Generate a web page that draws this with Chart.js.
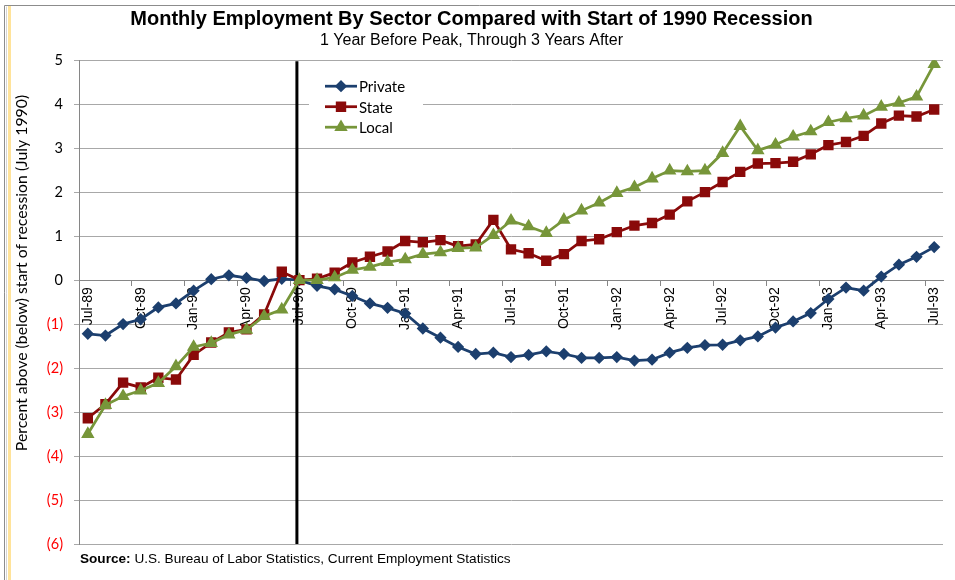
<!DOCTYPE html>
<html>
<head>
<meta charset="utf-8">
<title>Monthly Employment By Sector</title>
<script src="https://cdn.jsdelivr.net/npm/chart.js@4.4.0/dist/chart.umd.min.js"></script>
<style>
    html, body { margin: 0; padding: 0; background: #fff; }
    #wrap { width: 955px; height: 580px; position: relative; }
</style>
</head>
<body>
<div id="wrap"><canvas id="sector_chart"></canvas></div>
<script>
// months, Jul-89 through Jul-93
const months = [
    'Jul-89', 'Aug-89', 'Sep-89', 'Oct-89', 'Nov-89', 'Dec-89',
    'Jan-90', 'Feb-90', 'Mar-90', 'Apr-90', 'May-90', 'Jun-90',
    'Jul-90', 'Aug-90', 'Sep-90', 'Oct-90', 'Nov-90', 'Dec-90',
    'Jan-91', 'Feb-91', 'Mar-91', 'Apr-91', 'May-91', 'Jun-91',
    'Jul-91', 'Aug-91', 'Sep-91', 'Oct-91', 'Nov-91', 'Dec-91',
    'Jan-92', 'Feb-92', 'Mar-92', 'Apr-92', 'May-92', 'Jun-92',
    'Jul-92', 'Aug-92', 'Sep-92', 'Oct-92', 'Nov-92', 'Dec-92',
    'Jan-93', 'Feb-93', 'Mar-93', 'Apr-93', 'May-93', 'Jun-93',
    'Jul-93'
];

// percent above (below) July 1990
const privateEmp = [
    -1.22, -1.26, -1.00, -0.89, -0.62, -0.53, -0.24, 0.02, 0.11, 0.05, -0.02, 0.03,
    0.00, -0.13, -0.21, -0.36, -0.53, -0.63, -0.76, -1.10, -1.31, -1.52, -1.68, -1.65,
    -1.75, -1.70, -1.62, -1.68, -1.77, -1.77, -1.75, -1.83, -1.81, -1.65, -1.54, -1.48,
    -1.47, -1.37, -1.28, -1.08, -0.94, -0.75, -0.43, -0.17, -0.24, 0.08, 0.35, 0.53,
    0.75
];
const stateEmp = [
    -3.14, -2.82, -2.33, -2.44, -2.22, -2.26, -1.70, -1.42, -1.19, -1.12, -0.78, 0.19,
    0.00, 0.03, 0.17, 0.40, 0.53, 0.65, 0.89, 0.86, 0.91, 0.77, 0.81, 1.37,
    0.70, 0.61, 0.44, 0.59, 0.89, 0.93, 1.09, 1.24, 1.30, 1.49, 1.79, 2.00,
    2.23, 2.46, 2.65, 2.66, 2.69, 2.86, 3.07, 3.14, 3.28, 3.56, 3.74, 3.72,
    3.88
];
const localEmp = [
    -3.50, -2.84, -2.64, -2.51, -2.34, -1.96, -1.52, -1.43, -1.24, -1.13, -0.82, -0.67,
    0.00, 0.00, 0.06, 0.23, 0.30, 0.41, 0.47, 0.59, 0.63, 0.73, 0.74, 1.02,
    1.35, 1.22, 1.07, 1.37, 1.58, 1.76, 1.98, 2.11, 2.31, 2.49, 2.47, 2.49,
    2.89, 3.50, 2.95, 3.08, 3.26, 3.38, 3.59, 3.68, 3.74, 3.94, 4.03, 4.17,
    4.91
];

const recessionStart = 'Jul-90';
const yMin = -6;
const yMax = 5;

const ARIAL = "'Liberation Sans', Arial, sans-serif";
const CALIBRI = "Lato, 'Open Sans', sans-serif";

// frame, recession marker, legend, axis title, source note
const decorations = {
    id: 'decorations',
    beforeDraw(chart) {
        const ctx = chart.ctx;
        ctx.save();
        ctx.fillStyle = '#fff';
        ctx.fillRect(0, 0, chart.width, chart.height);
        ctx.fillStyle = '#FFE39A';
        ctx.fillRect(8, 6, 3, chart.height);
        ctx.strokeStyle = '#8c8c8c';
        ctx.lineWidth = 1;
        ctx.beginPath();
        ctx.moveTo(4.5, chart.height);
        ctx.lineTo(4.5, 5.5);
        ctx.lineTo(chart.width, 5.5);
        ctx.stroke();
        ctx.strokeStyle = '#d4d4d4';
        ctx.beginPath();
        ctx.moveTo(6.5, chart.height);
        ctx.lineTo(6.5, 6.5);
        ctx.stroke();
        ctx.restore();
    },
    beforeDatasetsDraw(chart) {
        const ctx = chart.ctx;
        const ca = chart.chartArea;
        const x = chart.scales.x.getPixelForValue(months.indexOf(recessionStart)) - 2.5;
        ctx.save();
        ctx.strokeStyle = '#000';
        ctx.lineWidth = 3;
        ctx.beginPath();
        ctx.moveTo(x, ca.top + 1);
        ctx.lineTo(x, ca.bottom);
        ctx.stroke();
        ctx.restore();
    },
    afterDraw(chart) {
        const ctx = chart.ctx;
        const ca = chart.chartArea;
        ctx.save();

        // legend box
        const bx = ca.left + 230, by = ca.top + 10;
        ctx.fillStyle = '#fff';
        ctx.fillRect(bx, by, 114, 68);
        ctx.font = '15px ' + CALIBRI;
        ctx.textBaseline = 'middle';
        chart.data.datasets.forEach((ds, i) => {
            const ly = ca.top + 26 + i * 20.5;
            const lx = ca.left + 246;
            ctx.strokeStyle = ds.borderColor;
            ctx.lineWidth = ds.borderWidth;
            ctx.beginPath();
            ctx.moveTo(lx, ly);
            ctx.lineTo(lx + 32, ly);
            ctx.stroke();
            ctx.fillStyle = ds.backgroundColor;
            Chart.helpers.drawPoint(ctx, {
                pointStyle: ds.pointStyle, radius: ds.pointRadius, rotation: 0, borderWidth: 1
            }, lx + 16, ly);
            ctx.fillStyle = '#000';
            ctx.textAlign = 'left';
            ctx.fillText(ds.label, lx + 34, ly + 1);
        });

        // y axis title
        ctx.translate(22, 273);
        ctx.rotate(-Math.PI / 2);
        ctx.fillStyle = '#000';
        ctx.font = '15.8px ' + CALIBRI;
        ctx.textAlign = 'center';
        ctx.fillText('Percent above (below) start of recession (July 1990)', 0, 0);
        ctx.setTransform(1, 0, 0, 1, 0, 0);

        // source note
        ctx.textAlign = 'left';
        ctx.textBaseline = 'middle';
        ctx.font = 'bold 13.6px ' + ARIAL;
        const lead = 'Source:';
        ctx.fillText(lead, 80, 559);
        const w = ctx.measureText(lead + ' ').width;
        ctx.font = '13.6px ' + ARIAL;
        ctx.fillText('U.S. Bureau of Labor Statistics, Current Employment Statistics', 80 + w, 559);
        ctx.restore();
    }
};

(function sector_chart()
{
    const sample = document.getElementById('sector_chart');
    const myChart = new Chart(sample, {
        type: 'line',
        data: {
            labels: months,
            datasets: [{
                label: 'Private',
                data: privateEmp,
                borderColor: '#1C3F6E',
                backgroundColor: '#1C3F6E',
                pointStyle: 'rectRot',
                pointRadius: 4.2,
                borderWidth: 2.75,
                order: 2
            }, {
                label: 'State',
                data: stateEmp,
                borderColor: '#8A0A0A',
                backgroundColor: '#8A0A0A',
                pointStyle: 'rect',
                pointRadius: 5.4,
                borderWidth: 2.75,
                order: 1
            }, {
                label: 'Local',
                data: localEmp,
                borderColor: '#77963A',
                backgroundColor: '#77963A',
                pointStyle: 'triangle',
                pointRadius: 5,
                borderWidth: 2.75,
                order: 0
            }]
        },
        options: {
            responsive: true,
            maintainAspectRatio: false,
            animation: false,
            elements: {
                line: { tension: 0 },
                point: { borderWidth: 1, hoverRadius: 5 }
            },
            layout: {
                padding: { left: 0, right: 12, top: 0, bottom: 36 }
            },
            plugins: {
                legend: { display: false },
                tooltip: { enabled: false },
                title: {
                    display: true,
                    text: 'Monthly Employment By Sector Compared with Start of 1990 Recession',
                    color: '#000',
                    font: { family: ARIAL, size: 20, weight: 'bold' },
                    padding: { top: 7, bottom: 0 }
                },
                subtitle: {
                    display: true,
                    text: '1 Year Before Peak, Through 3 Years After',
                    color: '#000',
                    font: { family: ARIAL, size: 16 },
                    padding: { top: 0, bottom: 10 }
                }
            },
            scales: {
                x: {
                    type: 'category',
                    position: { y: 0 },
                    offset: true,
                    grid: {
                        offset: true,
                        drawOnChartArea: false,
                        drawTicks: true,
                        tickLength: 5,
                        color: (c) => (c.index % 3 === 0 ? '#868686' : 'rgba(0,0,0,0)')
                    },
                    border: { color: '#868686', width: 1 },
                    ticks: {
                        autoSkip: false,
                        maxRotation: 90,
                        minRotation: 90,
                        padding: 2,
                        color: '#000',
                        font: { family: ARIAL, size: 14 },
                        callback: function (v, i) {
                            return i % 3 === 0 ? this.getLabelForValue(v) : '';
                        }
                    }
                },
                y: {
                    min: yMin,
                    max: yMax,
                    afterFit: (s) => { s.width = 79; },
                    grid: { color: '#a8a8a8', tickLength: 5, lineWidth: 1 },
                    border: { color: '#868686', width: 1 },
                    ticks: {
                        stepSize: 1,
                        padding: 11,
                        font: { family: CALIBRI, size: 14.5 },
                        color: (c) => (c.tick && c.tick.value < 0 ? '#FF0000' : '#000'),
                        callback: (v) => (v < 0 ? '(' + (-v) + ')' : String(v))
                    }
                }
            }
        },
        plugins: [decorations]
    });
})();
</script>
</body>
</html>
